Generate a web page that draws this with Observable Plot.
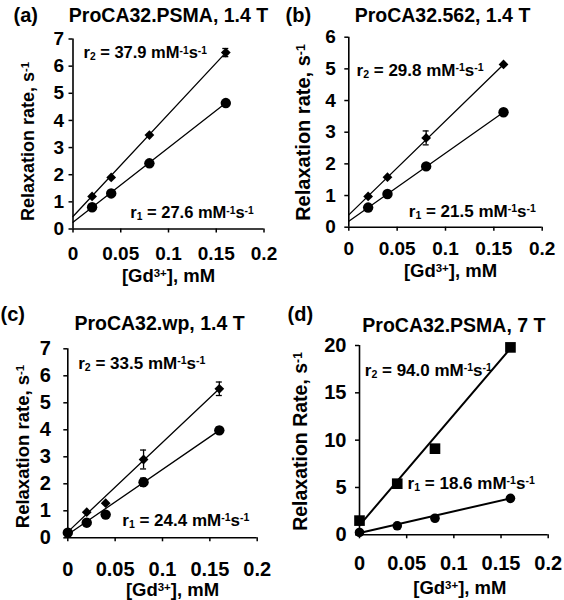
<!DOCTYPE html>
<html><head><meta charset="utf-8">
<script src="https://cdn.jsdelivr.net/npm/d3@7"></script>
<script src="https://cdn.jsdelivr.net/npm/@observablehq/plot@0.6"></script>
<style>
body{margin:0;background:#fff;}
#wrap{position:relative;width:564px;height:600px;overflow:hidden;}
.panel{position:absolute;width:282px;height:300px;}
</style></head><body><div id="wrap"></div>
<script>
// ---------- data ----------
const xTicks = [0, 0.05, 0.1, 0.15, 0.2];
const xTickLabels = ["0", "0.05", "0.1", "0.15", "0.2"];
const fitX = [0, 0.16];

// (a) ProCA32.PSMA, 1.4 T
const aConc = [0.02, 0.04, 0.08, 0.16];
const aR2 = [1.2, 1.9, 3.46, 6.5];
const aR2err = [0, 0, 0, 0.15];
const aR1 = [0.8, 1.31, 2.42, 4.64];
const aR1err = [0, 0, 0, 0];
const aFitR2 = [0.46, 6.5];
const aFitR1 = [0.25, 4.64];
const aYTicks = [0, 1, 2, 3, 4, 5, 6, 7];

// (b) ProCA32.562, 1.4 T
const bConc = [0.02, 0.04, 0.08, 0.16];
const bR2 = [0.97, 1.58, 2.82, 5.14];
const bR2err = [0, 0, 0.22, 0];
const bR1 = [0.62, 1.05, 1.92, 3.63];
const bR1err = [0, 0, 0, 0];
const bFitR2 = [0.39, 5.14];
const bFitR1 = [0.19, 3.63];
const bYTicks = [0, 1, 2, 3, 4, 5, 6];

// (c) ProCA32.wp, 1.4 T
const cConc = [0, 0.02, 0.04, 0.08, 0.16];
const cR2 = [0.21, 0.95, 1.28, 2.9, 5.52];
const cR2err = [0, 0, 0, 0.35, 0.25];
const cR1 = [0.19, 0.56, 0.86, 2.06, 3.98];
const cR1err = [0, 0, 0, 0.15, 0.12];
const cFitR2 = [0.22, 5.52];
const cFitR1 = [0.12, 3.98];
const cYTicks = [0, 1, 2, 3, 4, 5, 6, 7];

// (d) ProCA32.PSMA, 7 T
const dConc = [0, 0.04, 0.08, 0.16];
const dR2 = [1.5, 5.4, 9.1, 19.8];
const dR2err = [0, 0, 0, 0];
const dR1 = [0.25, 0.95, 1.75, 3.85];
const dR1err = [0, 0, 0, 0];
const dFitR2 = [1.0, 19.7];
const dFitR1 = [0.2, 3.85];
const dYTicks = [0, 5, 10, 15, 20];

// ---------- panel layout / text ----------
const panels = [
  {id:"a", left:0, top:0, letter:"(a)", title:"ProCA32.PSMA, 1.4 T", ylabel:"Relaxation rate, s^{-1}",
   conc:aConc, r2:aR2, r2e:aR2err, r1:aR1, r1e:aR1err, fit2:aFitR2, fit1:aFitR1, yTicks:aYTicks, r2sym:"diamond2",
   r2text:"r_{2} = 37.9 mM^{-1}s^{-1}", r1text:"r_{1} = 27.6 mM^{-1}s^{-1}",
   r2pos:[0.011, 6.5], r1pos:[0.060, 0.6],
   ml:72.5, mr:18.5, mt:38.5, mb:71.5, titleY:15, titleDx:0, letterX:13, letterY:15,
   ylabX:28, ylabY:141, ylabSize:18, xlabY:276, xlabDx:0, tickSize:19, annSize:16.5, yPad:5, xPad:13},
  {id:"b", left:282, top:0, letter:"(b)", title:"ProCA32.562, 1.4 T", ylabel:"Relaxation rate, s^{-1}",
   conc:bConc, r2:bR2, r2e:bR2err, r1:bR1, r1e:bR1err, fit2:bFitR2, fit1:bFitR1, yTicks:bYTicks, r2sym:"diamond2",
   r2text:"r_{2} = 29.8 mM^{-1}s^{-1}", r1text:"r_{1} = 21.5 mM^{-1}s^{-1}",
   r2pos:[0.008, 4.94], r1pos:[0.062, 0.5],
   ml:66.3, mr:22.3, mt:36.7, mb:73.3, titleY:15, titleDx:-3, letterX:3, letterY:15,
   ylabX:21.5, ylabY:132, ylabSize:20, xlabY:271, xlabDx:5, tickSize:19, annSize:17, yPad:9, xPad:10},
  {id:"c", left:0, top:300, letter:"(c)", title:"ProCA32.wp, 1.4 T", ylabel:"Relaxation rate, s^{-1}",
   conc:cConc, r2:cR2, r2e:cR2err, r1:cR1, r1e:cR1err, fit2:cFitR2, fit1:cFitR1, yTicks:cYTicks, r2sym:"diamond2",
   r2text:"r_{2} = 33.5 mM^{-1}s^{-1}", r1text:"r_{1} = 24.4 mM^{-1}s^{-1}",
   r2pos:[0.011, 6.44], r1pos:[0.0575, 0.64],
   ml:67.3, mr:25.3, mt:48.3, mb:62.7, titleY:23, titleDx:-3, letterX:0, letterY:14,
   ylabX:22.5, ylabY:146, ylabSize:18.5, xlabY:290, xlabDx:10, tickSize:20, annSize:17, yPad:13, xPad:20},
  {id:"d", left:282, top:300, letter:"(d)", title:"ProCA32.PSMA, 7 T", ylabel:"Relaxation Rate, s^{-1}",
   conc:dConc, r2:dR2, r2e:dR2err, r1:dR1, r1e:dR1err, fit2:dFitR2, fit1:dFitR1, yTicks:dYTicks, r2sym:"square",
   r2text:"r_{2} = 94.0 mM^{-1}s^{-1}", r1text:"r_{1} = 18.6 mM^{-1}s^{-1}",
   r2pos:[0.0056, 17.4], r1pos:[0.051, 5.45],
   ml:77, mr:16.3, mt:45, mb:65.7, titleY:25, titleDx:0, letterX:5, letterY:14,
   ylabX:18.5, ylabY:141, ylabSize:19.5, xlabY:288, xlabDx:6, tickSize:20, annSize:17, yPad:9, xPad:17}
];

function richify(textEl) {
  const s = textEl.textContent;
  textEl.textContent = "";
  const re = /([_^])\{([^}]*)\}|([^_^]+)/g;
  let m;
  while ((m = re.exec(s))) {
    const t = document.createElementNS("http://www.w3.org/2000/svg", "tspan");
    if (m[1]) {
      t.textContent = m[2];
      t.setAttribute("font-size", "62%");
      t.setAttribute("baseline-shift", m[1] === "^" ? "42%" : "-22%");
    } else {
      t.textContent = m[3];
    }
    textEl.appendChild(t);
  }
}

const wrap = document.getElementById("wrap");
for (const p of panels) {
  const yMax = p.yTicks[p.yTicks.length - 1];
  const pts = [];
  p.conc.forEach((x, i) => {
    pts.push({x, y: p.r2[i], e: p.r2e[i], s: "r2"});
    pts.push({x, y: p.r1[i], e: p.r1e[i], s: "r1"});
  });
  const errs = pts.filter(d => d.e > 0);
  const fit2 = fitX.map((x, i) => ({x, y: p.fit2[i]}));
  const fit1 = fitX.map((x, i) => ({x, y: p.fit1[i]}));
  const frameW = 282 - p.ml - p.mr;
  const capHalf = 3 / frameW * 0.2;
  const r2Dots = pts.filter(d => d.s === "r2"), r1Dots = pts.filter(d => d.s === "r1");

  const chart = Plot.plot({
    width: 282, height: 300,
    marginLeft: p.ml, marginRight: p.mr, marginTop: p.mt, marginBottom: p.mb,
    style: {fontFamily: "'Liberation Sans', Arial, sans-serif", fontWeight: "bold", color: "#000", background: "#fff", overflow: "visible"},
    x: {domain: [0, 0.2]},
    y: {domain: [0, yMax]},
    marks: [
      Plot.axisX({ticks: xTicks, tickFormat: d => xTickLabels[xTicks.indexOf(d)], tickSize: 4, tickPadding: p.xPad, fontSize: p.tickSize, fontWeight: "bold", label: null, strokeWidth: 1.5, stroke: "#000", fill: "#000"}),
      Plot.axisY({ticks: p.yTicks, tickFormat: d => String(d), tickSize: 4, tickPadding: p.yPad, fontSize: p.tickSize, fontWeight: "bold", label: null, strokeWidth: 1.5, stroke: "#000", fill: "#000"}),
      Plot.ruleX([0], {stroke: "#000", strokeWidth: 1.6}),
      Plot.ruleY([0], {stroke: "#000", strokeWidth: 1.6}),
      Plot.line(fit2, {x: "x", y: "y", stroke: "#000", strokeWidth: p.id === "d" ? 2 : 1.3}),
      Plot.line(fit1, {x: "x", y: "y", stroke: "#000", strokeWidth: p.id === "d" ? 2 : 1.3}),
      Plot.ruleX(errs, {x: "x", y1: d => d.y - d.e, y2: d => d.y + d.e, stroke: "#000", strokeWidth: 1.3}),
      Plot.ruleY(errs, {y: d => d.y + d.e, x1: d => d.x - capHalf, x2: d => d.x + capHalf, stroke: "#000", strokeWidth: 1.3}),
      Plot.ruleY(errs, {y: d => d.y - d.e, x1: d => d.x - capHalf, x2: d => d.x + capHalf, stroke: "#000", strokeWidth: 1.3}),
      Plot.dot(r2Dots, {x: "x", y: "y", symbol: () => p.r2sym, fill: "#000", stroke: "none", r: p.r2sym === "square" ? 6 : 4.4}),
      Plot.dot(r1Dots, {x: "x", y: "y", symbol: () => "circle", fill: "#000", stroke: "none", r: p.id === "d" ? 4.8 : 5.2}),
      Plot.text([p.r2text], {x: () => p.r2pos[0], y: () => p.r2pos[1], text: d => d, textAnchor: "start", fontSize: p.annSize, fontWeight: "bold", fill: "#000", className: "rich"}),
      Plot.text([p.r1text], {x: () => p.r1pos[0], y: () => p.r1pos[1], text: d => d, textAnchor: "start", fontSize: p.annSize, fontWeight: "bold", fill: "#000", className: "rich"}),
      Plot.text([p.title], {frameAnchor: "top", dy: p.titleY - p.mt, dx: p.titleDx, lineAnchor: "middle", text: d => d, fontSize: 19.5, fontWeight: "bold", fill: "#000"}),
      Plot.text([p.letter], {frameAnchor: "top-left", dx: p.letterX - p.ml, dy: p.letterY - p.mt, lineAnchor: "middle", textAnchor: "start", text: d => d, fontSize: 20, fontWeight: "bold", fill: "#000"}),
      Plot.text([p.ylabel], {frameAnchor: "top-left", dx: p.ylabX - p.ml, dy: p.ylabY - p.mt, rotate: -90, lineAnchor: "middle", textAnchor: "middle", text: d => d, fontSize: p.ylabSize, fontWeight: "bold", fill: "#000", className: "rich"}),
      Plot.text(["[Gd^{3+}], mM"], {frameAnchor: "bottom", dx: p.xlabDx, dy: p.xlabY - (300 - p.mb), lineAnchor: "middle", text: d => d, fontSize: 18.5, fontWeight: "bold", fill: "#000", className: "rich"})
    ]
  });
  chart.querySelectorAll("g.rich text").forEach(richify);
  const div = document.createElement("div");
  div.className = "panel";
  div.style.left = p.left + "px";
  div.style.top = p.top + "px";
  div.appendChild(chart);
  wrap.appendChild(div);
}
</script></body></html>
